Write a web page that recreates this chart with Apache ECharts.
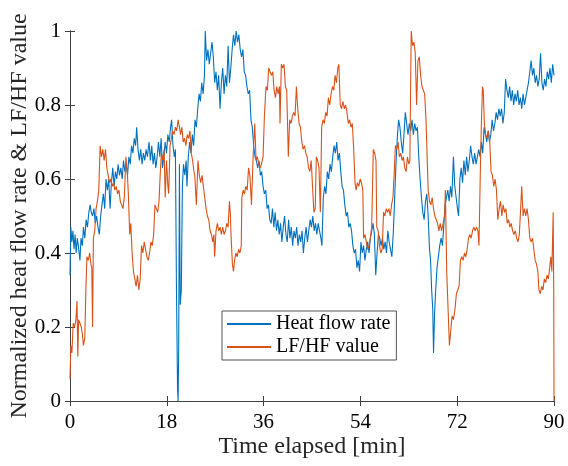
<!DOCTYPE html>
<html>
<head>
<meta charset="utf-8">
<script src="https://cdn.jsdelivr.net/npm/echarts@6/dist/echarts.min.js"></script>
<style>html,body{margin:0;padding:0;background:#fff}#c{width:568px;height:466px}</style>
</head>
<body>
<div id="c"></div>
<script>
const xTicks = [0, 18, 36, 54, 72, 90];
const yTicks = [0, 0.2, 0.4, 0.6, 0.8, 1];
const seriesNames = ['Heat flow rate', 'LF/HF value'];
const heatFlow = [[0,0.34],[0.15,0.47],[0.35,0.43],[0.55,0.46],[0.75,0.41],[0.95,0.45],[1.15,0.40],[1.35,0.44],[1.55,0.42],[1.85,0.38],[2.05,0.44],[2.3,0.42],[2.5,0.47],[2.75,0.44],[3.0,0.49],[3.25,0.47],[3.5,0.51],[3.75,0.53],[3.95,0.51],[4.2,0.50],[4.45,0.52],[4.7,0.48],[4.95,0.50],[5.2,0.47],[5.45,0.45],[5.7,0.50],[5.95,0.53],[6.2,0.56],[6.45,0.52],[6.7,0.60],[6.95,0.57],[7.2,0.60],[7.45,0.52],[7.7,0.59],[7.95,0.63],[8.2,0.58],[8.45,0.62],[8.7,0.60],[8.95,0.64],[9.2,0.61],[9.45,0.63],[9.7,0.60],[9.95,0.65],[10.2,0.62],[10.45,0.64],[10.7,0.61],[10.95,0.66],[11.2,0.64],[11.45,0.69],[11.7,0.67],[11.95,0.71],[12.2,0.69],[12.4,0.74],[12.65,0.68],[12.9,0.65],[13.15,0.68],[13.4,0.64],[13.65,0.67],[13.9,0.65],[14.15,0.68],[14.4,0.66],[14.7,0.70],[14.95,0.65],[15.2,0.69],[15.45,0.64],[15.7,0.67],[15.95,0.63],[16.2,0.66],[16.45,0.70],[16.7,0.66],[16.95,0.71],[17.2,0.63],[17.45,0.66],[17.7,0.70],[17.95,0.67],[18.2,0.72],[18.45,0.70],[18.7,0.74],[18.9,0.76],[19.15,0.69],[19.4,0.66],[19.6,0.68],[19.8,0.30],[20.0,0.03],[20.1,0.0],[20.2,0.12],[20.35,0.64],[20.5,0.26],[20.7,0.30],[20.9,0.58],[21.1,0.64],[21.35,0.61],[21.6,0.65],[21.75,0.58],[22.0,0.66],[22.25,0.70],[22.5,0.67],[22.75,0.72],[23.0,0.69],[23.25,0.76],[23.5,0.74],[23.75,0.79],[24.0,0.83],[24.25,0.81],[24.5,0.86],[24.75,0.83],[25.0,0.88],[25.15,1.0],[25.4,0.92],[25.65,0.95],[25.9,0.91],[26.15,0.94],[26.4,0.97],[26.65,0.93],[26.9,0.86],[27.15,0.89],[27.4,0.84],[27.65,0.88],[27.9,0.79],[28.15,0.86],[28.4,0.90],[28.65,0.83],[28.9,0.88],[29.15,0.85],[29.4,0.96],[29.65,0.86],[29.9,0.90],[30.15,0.95],[30.4,0.99],[30.65,0.96],[30.9,1.0],[31.15,0.97],[31.4,0.99],[31.65,0.95],[31.9,0.93],[32.15,0.95],[32.4,0.89],[32.65,0.88],[32.9,0.85],[33.15,0.83],[33.4,0.84],[33.65,0.76],[33.9,0.74],[34.15,0.69],[34.4,0.66],[34.65,0.65],[34.9,0.63],[35.15,0.65],[35.4,0.61],[35.65,0.62],[35.9,0.58],[36.15,0.56],[36.4,0.57],[36.65,0.52],[36.9,0.53],[37.15,0.49],[37.4,0.48],[37.65,0.52],[37.9,0.47],[38.15,0.51],[38.4,0.46],[38.65,0.49],[38.9,0.45],[39.15,0.48],[39.4,0.43],[39.65,0.47],[39.9,0.50],[40.15,0.45],[40.4,0.43],[40.65,0.49],[40.9,0.44],[41.15,0.47],[41.4,0.42],[41.65,0.46],[41.9,0.44],[42.15,0.47],[42.4,0.42],[42.65,0.45],[42.9,0.43],[43.15,0.46],[43.4,0.40],[43.65,0.44],[43.9,0.47],[44.15,0.43],[44.4,0.46],[44.65,0.49],[44.9,0.47],[45.15,0.50],[45.4,0.46],[45.65,0.48],[45.9,0.45],[46.15,0.48],[46.4,0.46],[46.65,0.44],[46.85,0.42],[47.1,0.55],[47.35,0.58],[47.6,0.56],[47.85,0.62],[48.1,0.60],[48.35,0.64],[48.6,0.62],[48.85,0.66],[49.1,0.69],[49.35,0.67],[49.6,0.70],[49.85,0.65],[50.1,0.67],[50.35,0.62],[50.6,0.58],[50.85,0.57],[51.1,0.53],[51.35,0.50],[51.6,0.51],[51.85,0.47],[52.1,0.48],[52.35,0.46],[52.6,0.42],[52.85,0.40],[53.1,0.41],[53.35,0.36],[53.6,0.38],[53.85,0.35],[54.1,0.43],[54.35,0.40],[54.6,0.42],[54.85,0.38],[55.1,0.41],[55.35,0.43],[55.6,0.40],[55.85,0.44],[56.1,0.46],[56.35,0.48],[56.6,0.45],[56.85,0.34],[57.1,0.40],[57.35,0.45],[57.6,0.44],[57.85,0.42],[58.1,0.44],[58.35,0.41],[58.6,0.43],[58.85,0.40],[59.1,0.46],[59.35,0.43],[59.6,0.41],[59.85,0.39],[60.1,0.45],[60.3,0.52],[60.5,0.60],[60.7,0.67],[60.9,0.72],[61.1,0.76],[61.35,0.74],[61.6,0.70],[61.85,0.67],[62.1,0.72],[62.35,0.78],[62.6,0.75],[62.85,0.72],[63.1,0.75],[63.35,0.73],[63.6,0.76],[63.85,0.72],[64.1,0.75],[64.35,0.73],[64.6,0.74],[64.85,0.66],[65.1,0.60],[65.35,0.55],[65.6,0.51],[65.85,0.49],[66.1,0.54],[66.35,0.56],[66.6,0.50],[66.85,0.41],[67.05,0.38],[67.25,0.30],[67.45,0.25],[67.6,0.13],[67.8,0.24],[68.0,0.30],[68.25,0.36],[68.5,0.39],[68.75,0.42],[69.0,0.44],[69.25,0.42],[69.5,0.47],[69.75,0.53],[70.0,0.55],[70.25,0.57],[70.5,0.54],[70.75,0.58],[71.0,0.55],[71.3,0.66],[71.55,0.58],[71.8,0.55],[72.05,0.52],[72.25,0.50],[72.5,0.60],[72.75,0.63],[73.0,0.59],[73.25,0.65],[73.5,0.61],[73.75,0.66],[74.0,0.62],[74.25,0.65],[74.5,0.69],[74.75,0.66],[75.0,0.64],[75.25,0.67],[75.5,0.64],[75.75,0.66],[76.0,0.68],[76.25,0.66],[76.5,0.70],[76.75,0.67],[77.0,0.74],[77.25,0.72],[77.5,0.70],[77.75,0.73],[78.0,0.70],[78.25,0.72],[78.5,0.76],[78.75,0.73],[79.0,0.75],[79.25,0.78],[79.5,0.76],[79.75,0.79],[80.0,0.77],[80.25,0.79],[80.5,0.75],[80.75,0.78],[81.0,0.87],[81.25,0.84],[81.5,0.82],[81.75,0.85],[82.0,0.81],[82.25,0.84],[82.5,0.80],[82.75,0.83],[83.0,0.81],[83.25,0.84],[83.5,0.80],[83.75,0.82],[84.0,0.79],[84.25,0.83],[84.5,0.80],[84.75,0.82],[85.0,0.84],[85.25,0.86],[85.5,0.89],[85.75,0.92],[86.0,0.88],[86.25,0.90],[86.5,0.86],[86.75,0.88],[87.0,0.85],[87.25,0.87],[87.5,0.94],[87.75,0.86],[88.0,0.84],[88.25,0.87],[88.5,0.85],[88.75,0.89],[89.0,0.87],[89.25,0.90],[89.5,0.86],[89.75,0.91],[90.0,0.88]];
const lfhf = [[0,0.06],[0.15,0.15],[0.35,0.13],[0.6,0.21],[0.85,0.20],[1.1,0.22],[1.3,0.27],[1.45,0.12],[1.6,0.22],[1.85,0.21],[2.1,0.20],[2.3,0.18],[2.5,0.15],[2.75,0.17],[2.95,0.30],[3.15,0.39],[3.4,0.38],[3.65,0.40],[3.9,0.37],[4.05,0.36],[4.2,0.20],[4.35,0.44],[4.6,0.46],[4.85,0.52],[5.1,0.54],[5.35,0.57],[5.6,0.69],[5.85,0.66],[6.1,0.68],[6.35,0.65],[6.6,0.68],[6.85,0.63],[7.1,0.61],[7.35,0.59],[7.6,0.60],[7.85,0.58],[8.1,0.59],[8.35,0.57],[8.6,0.58],[8.85,0.56],[9.1,0.57],[9.35,0.54],[9.6,0.53],[9.85,0.52],[10.1,0.55],[10.4,0.66],[10.65,0.62],[10.85,0.56],[11.1,0.45],[11.3,0.48],[11.55,0.40],[11.8,0.35],[12.05,0.33],[12.3,0.31],[12.55,0.34],[12.8,0.30],[13.05,0.33],[13.3,0.42],[13.55,0.40],[13.8,0.43],[14.05,0.41],[14.3,0.39],[14.55,0.38],[14.8,0.40],[15.05,0.43],[15.3,0.42],[15.55,0.45],[15.8,0.53],[16.05,0.52],[16.3,0.51],[16.55,0.54],[16.8,0.62],[17.0,0.67],[17.25,0.65],[17.5,0.68],[17.7,0.55],[17.95,0.65],[18.2,0.58],[18.35,0.56],[18.6,0.69],[18.85,0.71],[19.1,0.73],[19.35,0.72],[19.6,0.74],[19.85,0.73],[20.1,0.76],[20.35,0.74],[20.55,0.72],[20.8,0.74],[21.05,0.70],[21.3,0.71],[21.55,0.69],[21.8,0.72],[22.05,0.71],[22.3,0.73],[22.55,0.67],[22.8,0.65],[23.05,0.62],[23.2,0.61],[23.5,0.53],[23.8,0.65],[24.05,0.61],[24.3,0.59],[24.55,0.61],[24.8,0.58],[25.05,0.55],[25.3,0.52],[25.55,0.50],[25.8,0.49],[26.05,0.46],[26.3,0.45],[26.55,0.43],[26.75,0.45],[26.9,0.39],[27.15,0.46],[27.4,0.48],[27.65,0.46],[27.9,0.47],[28.15,0.45],[28.4,0.47],[28.65,0.45],[28.9,0.46],[29.15,0.48],[29.4,0.47],[29.65,0.54],[29.8,0.51],[30.0,0.43],[30.2,0.37],[30.4,0.35],[30.6,0.38],[30.85,0.40],[31.1,0.39],[31.35,0.41],[31.6,0.40],[31.85,0.42],[31.95,0.55],[32.2,0.57],[32.45,0.56],[32.7,0.58],[32.95,0.57],[33.2,0.63],[33.45,0.61],[33.75,0.53],[34.05,0.66],[34.35,0.75],[34.6,0.65],[34.85,0.66],[35.1,0.64],[35.35,0.63],[35.6,0.64],[35.9,0.66],[36.15,0.77],[36.45,0.85],[36.7,0.84],[36.95,0.90],[37.2,0.89],[37.45,0.88],[37.7,0.89],[37.95,0.84],[38.2,0.82],[38.45,0.85],[38.7,0.83],[38.95,0.85],[39.05,0.75],[39.3,0.91],[39.55,0.90],[39.8,0.91],[40.05,0.85],[40.3,0.84],[40.6,0.66],[40.85,0.76],[41.1,0.75],[41.35,0.77],[41.6,0.78],[41.85,0.77],[42.1,0.85],[42.35,0.79],[42.6,0.75],[42.85,0.74],[43.1,0.70],[43.35,0.68],[43.6,0.69],[43.85,0.67],[44.1,0.66],[44.35,0.63],[44.6,0.62],[44.85,0.65],[45.1,0.58],[45.35,0.51],[45.6,0.52],[45.8,0.66],[46.05,0.65],[46.3,0.63],[46.55,0.51],[46.8,0.74],[47.05,0.76],[47.3,0.75],[47.55,0.78],[47.8,0.77],[48.05,0.82],[48.3,0.80],[48.55,0.83],[48.8,0.85],[49.05,0.84],[49.3,0.88],[49.55,0.86],[49.8,0.90],[50.0,0.91],[50.25,0.80],[50.5,0.79],[50.75,0.81],[51.0,0.79],[51.25,0.80],[51.5,0.78],[51.75,0.75],[52.0,0.76],[52.25,0.74],[52.5,0.75],[52.75,0.68],[53.0,0.59],[53.2,0.57],[53.45,0.59],[53.7,0.58],[53.95,0.60],[54.2,0.59],[54.45,0.57],[54.6,0.44],[54.85,0.45],[55.1,0.43],[55.35,0.41],[55.6,0.42],[55.85,0.44],[56.1,0.47],[56.4,0.68],[56.65,0.67],[56.9,0.65],[57.05,0.47],[57.3,0.46],[57.55,0.42],[57.8,0.40],[58.05,0.41],[58.3,0.51],[58.55,0.50],[58.8,0.52],[59.05,0.51],[59.3,0.52],[59.55,0.50],[59.8,0.53],[60.05,0.55],[60.3,0.62],[60.5,0.69],[60.75,0.68],[61.0,0.70],[61.25,0.66],[61.5,0.67],[61.75,0.65],[62.0,0.66],[62.25,0.63],[62.5,0.62],[62.75,0.66],[63.0,0.64],[63.2,0.65],[63.45,1.0],[63.7,0.96],[63.95,0.97],[64.2,0.94],[64.45,0.80],[64.7,0.92],[64.95,0.93],[65.2,0.88],[65.45,0.85],[65.7,0.84],[65.95,0.83],[66.2,0.76],[66.4,0.76],[66.6,0.57],[66.85,0.54],[67.1,0.53],[67.35,0.55],[67.6,0.52],[67.85,0.50],[68.1,0.49],[68.35,0.48],[68.6,0.46],[68.85,0.48],[69.1,0.46],[69.4,0.46],[69.65,0.50],[69.8,0.57],[70.05,0.35],[70.3,0.25],[70.55,0.15],[70.8,0.19],[71.05,0.23],[71.3,0.22],[71.6,0.25],[71.85,0.29],[72.1,0.30],[72.35,0.31],[72.6,0.38],[72.85,0.39],[73.1,0.38],[73.35,0.40],[73.6,0.39],[73.85,0.41],[74.1,0.44],[74.35,0.45],[74.6,0.44],[74.85,0.46],[75.1,0.47],[75.35,0.46],[75.6,0.47],[75.85,0.46],[76.05,0.42],[76.3,0.62],[76.5,0.75],[76.7,0.85],[76.85,0.84],[77.05,0.75],[77.3,0.72],[77.55,0.71],[77.8,0.73],[78.05,0.70],[78.3,0.62],[78.55,0.61],[78.8,0.58],[79.05,0.60],[79.3,0.57],[79.55,0.49],[79.8,0.52],[80.05,0.54],[80.3,0.50],[80.55,0.53],[80.8,0.51],[81.05,0.52],[81.3,0.48],[81.55,0.49],[81.8,0.47],[82.05,0.48],[82.3,0.46],[82.55,0.45],[82.8,0.46],[83.05,0.44],[83.3,0.43],[83.55,0.45],[83.8,0.52],[84.0,0.58],[84.25,0.50],[84.5,0.52],[84.75,0.50],[85.0,0.52],[85.25,0.49],[85.5,0.44],[85.75,0.43],[86.0,0.44],[86.25,0.41],[86.5,0.38],[86.75,0.37],[87.0,0.35],[87.2,0.30],[87.45,0.29],[87.7,0.31],[87.95,0.30],[88.2,0.33],[88.45,0.32],[88.7,0.34],[88.95,0.33],[89.2,0.36],[89.4,0.39],[89.6,0.35],[89.85,0.51],[89.95,0.30],[90.0,0.0]];

const FONT = 'Liberation Serif';
const AX = '#404040';
const chart = echarts.init(document.getElementById('c'), null, {renderer: 'canvas'});
const xBase = {type: 'value', min: xTicks[0], max: xTicks[xTicks.length - 1], interval: xTicks[1] - xTicks[0],
  axisLine: {show: true, lineStyle: {color: AX, width: 1}}, axisTick: {show: true, inside: true, length: 5, lineStyle: {color: AX}},
  splitLine: {show: false}};
const yBase = {type: 'value', min: yTicks[0], max: yTicks[yTicks.length - 1], interval: yTicks[1] - yTicks[0],
  axisLine: {show: true, lineStyle: {color: AX, width: 1}}, axisTick: {show: true, inside: true, length: 5, lineStyle: {color: AX}},
  splitLine: {show: false}};
chart.setOption({
  animation: false,
  backgroundColor: '#fff',
  grid: {left: 70, right: 14, top: 31, bottom: 65, containLabel: false, outerBoundsMode: 'none'},
  legend: {
    orient: 'vertical', left: 222, top: 311, data: seriesNames,
    backgroundColor: '#fff', borderColor: '#555', borderWidth: 1, borderRadius: 0,
    padding: [3, 6, 3, 4], itemGap: 3, itemWidth: 44, itemHeight: 1.5,
    textStyle: {fontFamily: FONT, fontSize: 20, color: '#000'}
  },
  xAxis: [
    Object.assign({}, xBase, {position: 'bottom', name: 'Time elapsed [min]', nameLocation: 'middle', nameGap: 34, nameMoveOverlap: false,
      nameTextStyle: {fontFamily: FONT, fontSize: 24, color: '#262626'},
      axisLabel: {fontFamily: FONT, fontSize: 21, color: '#000', margin: 11}}),
    Object.assign({}, xBase, {position: 'top', axisLabel: {show: false}})
  ],
  yAxis: [
    Object.assign({}, yBase, {position: 'left', name: 'Normalized heat flow rate & LF/HF value', nameLocation: 'middle', nameGap: 38, nameMoveOverlap: false,
      nameTextStyle: {fontFamily: FONT, fontSize: 24, color: '#262626'},
      axisLabel: {fontFamily: FONT, fontSize: 21, color: '#000', margin: 9}}),
    Object.assign({}, yBase, {position: 'right', axisLabel: {show: false}})
  ],
  series: [
    {name: seriesNames[0], type: 'line', data: heatFlow, symbol: 'none', legendIcon: 'rect', lineStyle: {color: '#0072BD', width: 1.1}, itemStyle: {color: '#0072BD'}, z: 2},
    {name: seriesNames[1], type: 'line', data: lfhf, symbol: 'none', legendIcon: 'rect', lineStyle: {color: '#D95319', width: 1.1}, itemStyle: {color: '#D95319'}, z: 3}
  ]
});
</script>
</body>
</html>
